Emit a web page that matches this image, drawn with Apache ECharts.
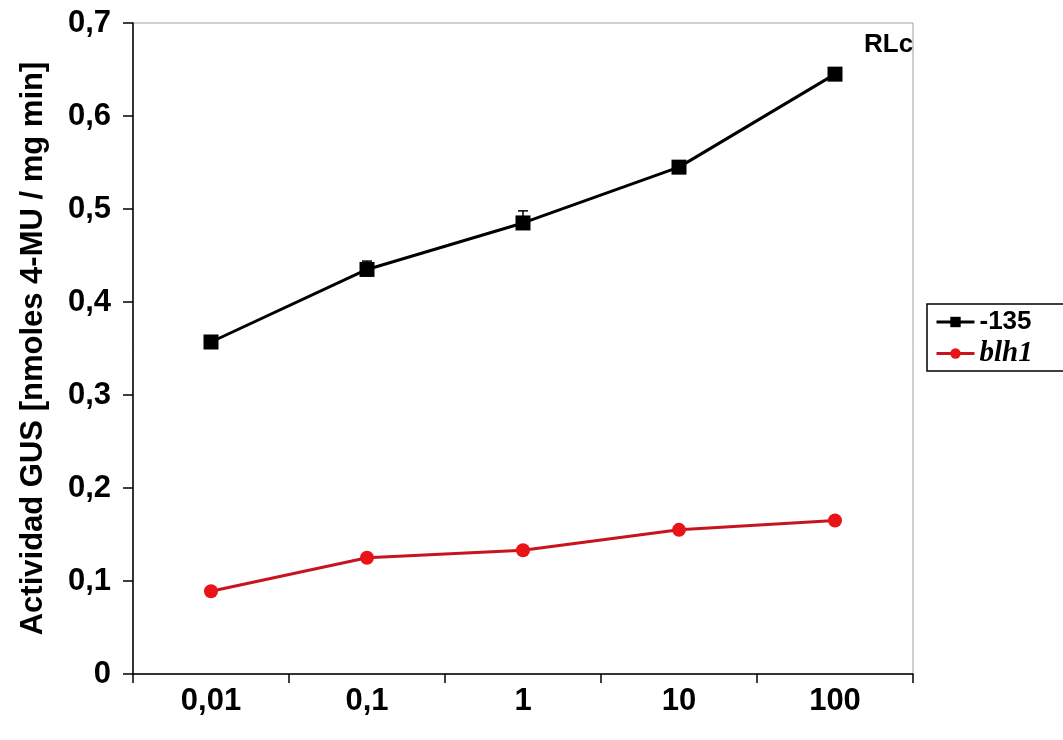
<!DOCTYPE html>
<html>
<head>
<meta charset="utf-8">
<script src="https://cdn.jsdelivr.net/npm/echarts@6/dist/echarts.min.js"></script>
<style>html,body{margin:0;padding:0;background:#fff}#c{width:1063px;height:740px}</style>
</head>
<body>
<div id="c"></div>
<script>
const categories = ['0,01', '0,1', '1', '10', '100'];
const series135 = [0.357, 0.435, 0.485, 0.545, 0.645];
const error135 = [0.003, 0.009, 0.013, 0.004, 0.003];
const seriesBlh1 = [0.089, 0.125, 0.133, 0.155, 0.165];
const yTicks = [0, 0.1, 0.2, 0.3, 0.4, 0.5, 0.6, 0.7];

const FONT = "'Liberation Sans', Arial, sans-serif";
const chart = echarts.init(document.getElementById('c'), null, {renderer: 'canvas'});
chart.setOption({
  animation: false,
  backgroundColor: '#fff',
  grid: {left: 133, right: 150, top: 23, bottom: 66, show: true, borderColor: '#a0a0a0', borderWidth: 1,
    containLabel: false, outerBoundsMode: 'none'},
  xAxis: {
    type: 'category', data: categories, boundaryGap: true,
    axisLine: {lineStyle: {color: '#000', width: 1.5}},
    axisTick: {show: true, length: 9, alignWithLabel: false, lineStyle: {color: '#000', width: 1.5}},
    axisLabel: {color: '#000', fontFamily: FONT, fontWeight: 'bold', fontSize: 31, margin: 12},
    splitLine: {show: false}
  },
  yAxis: {
    type: 'value', min: 0, max: 0.7, interval: 0.1,
    name: 'Actividad GUS [nmoles 4-MU / mg min]', nameLocation: 'middle', nameGap: 84,
    nameTextStyle: {color: '#000', fontFamily: FONT, fontWeight: 'bold', fontSize: 31},
    axisLine: {show: true, lineStyle: {color: '#000', width: 1.5}},
    axisTick: {show: true, length: 10, lineStyle: {color: '#000', width: 1.5}},
    axisLabel: {color: '#000', fontFamily: FONT, fontWeight: 'bold', fontSize: 31, margin: 22,
      formatter: v => { const t = yTicks.find(x => Math.abs(x - v) < 1e-9); return (t === 0 ? '0' : t.toFixed(1)).replace('.', ','); }},
    splitLine: {show: false}
  },
  legend: {
    orient: 'vertical', left: 927, top: 304,
    borderColor: '#000', borderWidth: 1.5, padding: [5, 40, 3, 8], itemGap: 4,
    itemWidth: 38, itemHeight: 13,
    textStyle: {color: '#000', fontFamily: FONT, fontWeight: 'bold', fontSize: 26,
      rich: {it: {fontFamily: "'Liberation Serif', 'Times New Roman', serif", fontStyle: 'italic', fontWeight: 'bold', fontSize: 29, color: '#000'}}},
    formatter: name => name === 'blh1' ? '{it|blh1}' : name,
    data: [
      {name: '-135', lineStyle: {width: 3, color: '#000'}},
      {name: 'blh1', lineStyle: {width: 3, color: '#c8141e'}}
    ]
  },
  graphic: [{
    type: 'text', left: 864, top: 32,
    style: {text: 'RLc', fontFamily: FONT, fontWeight: 'bold', fontSize: 26, fill: '#000'}
  }],
  series: [
    {
      name: '-135', type: 'line', data: series135,
      symbol: 'rect', symbolSize: 15,
      lineStyle: {color: '#000', width: 3},
      itemStyle: {color: '#000'}, z: 3
    },
    {
      name: 'err135', type: 'custom', z: 4,
      data: series135.map((v, i) => [i, v, v + error135[i]]),
      renderItem: (params, api) => {
        const p0 = api.coord([api.value(0), api.value(1)]);
        const p1 = api.coord([api.value(0), api.value(2)]);
        return {type: 'group', children: [
          {type: 'line', shape: {x1: p0[0], y1: p0[1], x2: p1[0], y2: p1[1]}, style: {stroke: '#000', lineWidth: 1.5}},
          {type: 'line', shape: {x1: p1[0] - 5, y1: p1[1], x2: p1[0] + 5, y2: p1[1]}, style: {stroke: '#000', lineWidth: 1.5}}
        ]};
      },
      silent: true
    },
    {
      name: 'blh1', type: 'line', data: seriesBlh1,
      symbol: 'circle', symbolSize: 14,
      lineStyle: {color: '#c8141e', width: 3},
      itemStyle: {color: '#e81418'}, z: 3
    }
  ]
});
</script>
</body>
</html>
